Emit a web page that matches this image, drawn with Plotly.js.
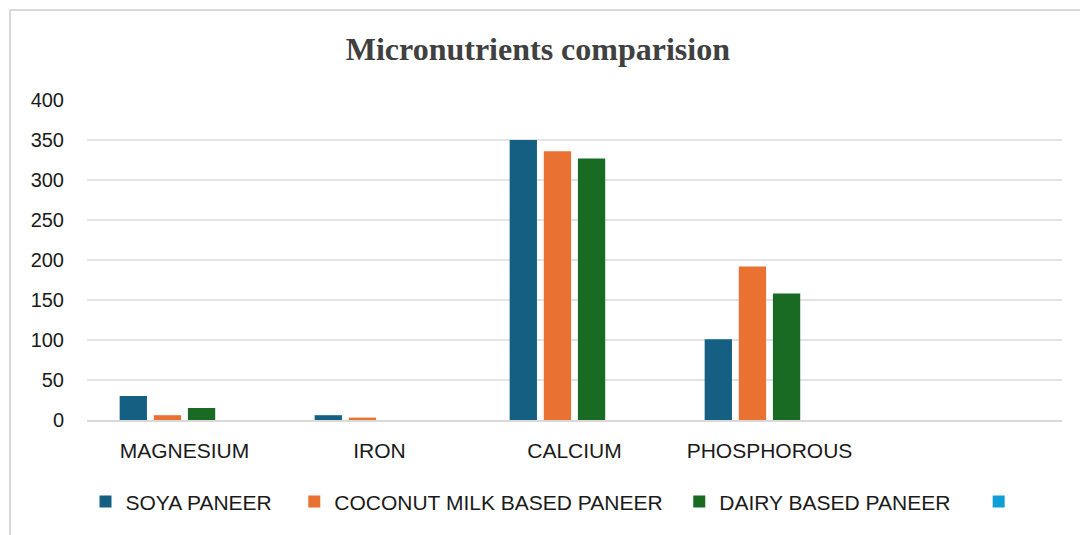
<!DOCTYPE html>
<html>
<head>
<meta charset="utf-8">
<script src="https://cdn.plot.ly/plotly-3.0.1.min.js"></script>
<style>
  html, body { margin: 0; padding: 0; background: #fff; }
  #chart { width: 1080px; height: 535px; position: relative; }
  #frame { position: absolute; left: 9px; top: 9px; width: 1100px; height: 600px;
           border-left: 2px solid #d9d9d9; border-top: 2px solid #d9d9d9; pointer-events: none; }
</style>
</head>
<body>
<div id="chart"></div>
<div id="frame"></div>
<script>
const categories = ["MAGNESIUM", "IRON", "CALCIUM", "PHOSPHOROUS"];
const seriesNames = ["SOYA PANEER", "COCONUT MILK BASED PANEER", "DAIRY BASED PANEER", ""];
const soyaPaneer = [30, 6, 350, 101];
const coconutMilkPaneer = [6, 3, 336, 192];
const dairyPaneer = [15, 0, 327, 158];
const emptySeries = [0, 0, 0, 0];
const yTicks = [0, 50, 100, 150, 200, 250, 300, 350, 400];
const colors = ["#156082", "#E97132", "#196B24", "#0F9ED5"];

const pads = ["\u00a0\u00a0\u00a0", "\u00a0\u00a0", "\u00a0\u00a0\u00a0\u00a0", ""];
const allSeries = [soyaPaneer, coconutMilkPaneer, dairyPaneer, emptySeries];
const traces = allSeries.map((vals, i) => ({
  type: "bar",
  x: categories,
  y: vals,
  name: seriesNames[i] + pads[i],
  marker: { color: colors[i], line: { width: 0 } },
  hoverinfo: "x+y+name"
}));

const layout = {
  width: 1080,
  height: 535,
  paper_bgcolor: "rgba(0,0,0,0)",
  plot_bgcolor: "#ffffff",
  margin: { l: 87, r: 18, t: 100, b: 115 },
  barmode: "group",
  bargap: 0.30,
  bargroupgap: 0.2,
  title: {
    text: "<b>Micronutrients comparision</b>",
    font: { family: "Liberation Serif, Times New Roman, serif", size: 32, color: "#404040" },
    xref: "container", yref: "container",
    x: 0.498, y: 0.908, xanchor: "center", yanchor: "middle"
  },
  font: { family: "Liberation Sans, Arial, sans-serif", color: "#1a1a1a" },
  xaxis: {
    type: "category",
    range: [-0.5, 4.5],
    showgrid: false,
    showline: true,
    linecolor: "#d9d9d9",
    linewidth: 2,
    ticks: "outside",
    ticklen: 11,
    tickcolor: "rgba(0,0,0,0)",
    tickfont: { size: 21, color: "#1a1a1a" },
    fixedrange: true
  },
  yaxis: {
    range: [0, 400],
    tickvals: yTicks,
    ticktext: yTicks.map(String),
    showgrid: true,
    gridcolor: "#e3e3e3",
    gridwidth: 1.5,
    zeroline: false,
    showline: false,
    ticks: "outside",
    ticklen: 18,
    tickcolor: "rgba(0,0,0,0)",
    tickfont: { size: 20, color: "#1a1a1a" },
    fixedrange: true
  },
  legend: {
    orientation: "h",
    x: 0.480, xanchor: "center",
    y: -0.256, yanchor: "middle",
    font: { size: 21, color: "#1a1a1a" },
    itemclick: false
  },
  showlegend: true
};

Plotly.newPlot("chart", traces, layout, { displayModeBar: false, staticPlot: true });
</script>
</body>
</html>
